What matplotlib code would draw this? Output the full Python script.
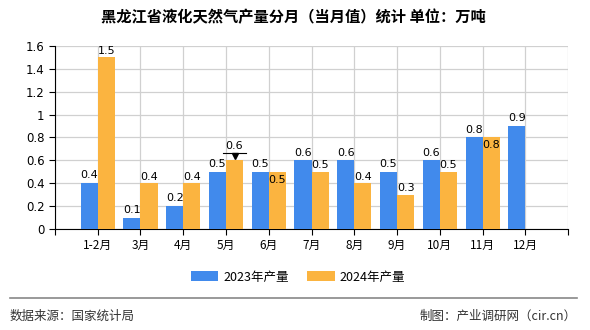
import matplotlib
matplotlib.use("Agg")
import matplotlib.pyplot as plt
import numpy as np
from matplotlib.lines import Line2D

plt.rcParams['font.family'] = ['Noto Sans CJK SC', 'DejaVu Sans']

months = ['1-2月', '3月', '4月', '5月', '6月', '7月', '8月', '9月', '10月', '11月', '12月']
prod_2023 = [0.4, 0.1, 0.2, 0.5, 0.5, 0.6, 0.6, 0.5, 0.6, 0.8, 0.9]
prod_2024 = [1.5, 0.4, 0.4, 0.6, 0.5, 0.5, 0.4, 0.3, 0.5, 0.8]
y_ticks = [0, 0.2, 0.4, 0.6, 0.8, 1, 1.2, 1.4, 1.6]
y_labels = ['0', '0.2', '0.4', '0.6', '0.8', '1', '1.2', '1.4', '1.6']

blue = '#418AEC'
orange = '#FBB440'

fig = plt.figure(figsize=(5.9, 3.3), dpi=100)
ax = fig.add_axes([0.093, 0.306, 0.870, 0.555])

x = np.arange(len(months))
w = 0.4
x24 = x[:len(prod_2024)]
ax.bar(x - w / 2, prod_2023, w, color=blue, label='2023年产量', zorder=3)
ax.bar(x24 + w / 2, prod_2024, w, color=orange, label='2024年产量', zorder=3)

# marked month (small pointer above the 2024 bar)
k = months.index('5月')

# value labels
for i, v in enumerate(prod_2023):
    ax.annotate(f'{v:g}', (x[i] - w / 2, v), xytext=(0, 2), textcoords='offset points',
                ha='center', va='bottom', fontsize=8, family='DejaVu Sans', zorder=5)
for i, v in enumerate(prod_2024):
    inside = prod_2023[i] == v
    dy = -2 if inside else 1
    if i == k:
        dy = 7
    ax.annotate(f'{v:g}', (x24[i] + w / 2, v), xytext=(0, dy),
                textcoords='offset points', ha='center',
                va='top' if inside else 'bottom', fontsize=8, family='DejaVu Sans', zorder=5)

ax.annotate('', (x24[k] + w / 2, prod_2024[k]), xytext=(0, 3), textcoords='offset points')
ax.plot([x24[k] + w / 2], [prod_2024[k] + 0.035], marker='v', color='black', ms=4.5, zorder=6)
ax.plot([x24[k] + w / 2 - 0.27, x24[k] + w / 2 + 0.27], [prod_2024[k] + 0.062] * 2,
        color='black', lw=0.8, zorder=6)

ax.set_xlim(-1, len(months))
ax.set_ylim(0, 1.6)
ax.set_xticks(np.arange(-1, len(months) + 1))
ax.set_xticklabels([''] + months + [''], fontsize=8.5)
ax.set_yticks(y_ticks)
ax.set_yticklabels(y_labels, fontsize=8.5, family='DejaVu Sans')
ax.grid(True, color='#d0d0d0', lw=0.9, zorder=0)
for s in ['top', 'right']:
    ax.spines[s].set_visible(False)
ax.spines['left'].set_color('black')
ax.spines['bottom'].set_color('black')
ax.tick_params(axis='both', length=4, width=0.8, direction='out')

fig.text(0.498, 0.948, '黑龙江省液化天然气产量分月（当月值）统计 单位：万吨',
         ha='center', va='center', fontsize=11, weight='bold')

fig.legend(loc='center', bbox_to_anchor=(0.505, 1 - 277 / 330), ncol=2, frameon=False,
           fontsize=9, handlelength=2.2, handleheight=0.8, columnspacing=1.5,
           handletextpad=0.4)

fig.add_artist(Line2D([10 / 590, 577 / 590], [1 - 298 / 330] * 2, color='#888888', lw=1.2))
fig.text(10 / 590, 1 - 316 / 330, '数据来源：国家统计局', ha='left', va='center',
         fontsize=9, color='#333333')
fig.text(577 / 590, 1 - 316 / 330, '制图：产业调研网（cir.cn）', ha='right', va='center',
         fontsize=9, color='#333333')

fig.savefig('out.png', dpi=100)
